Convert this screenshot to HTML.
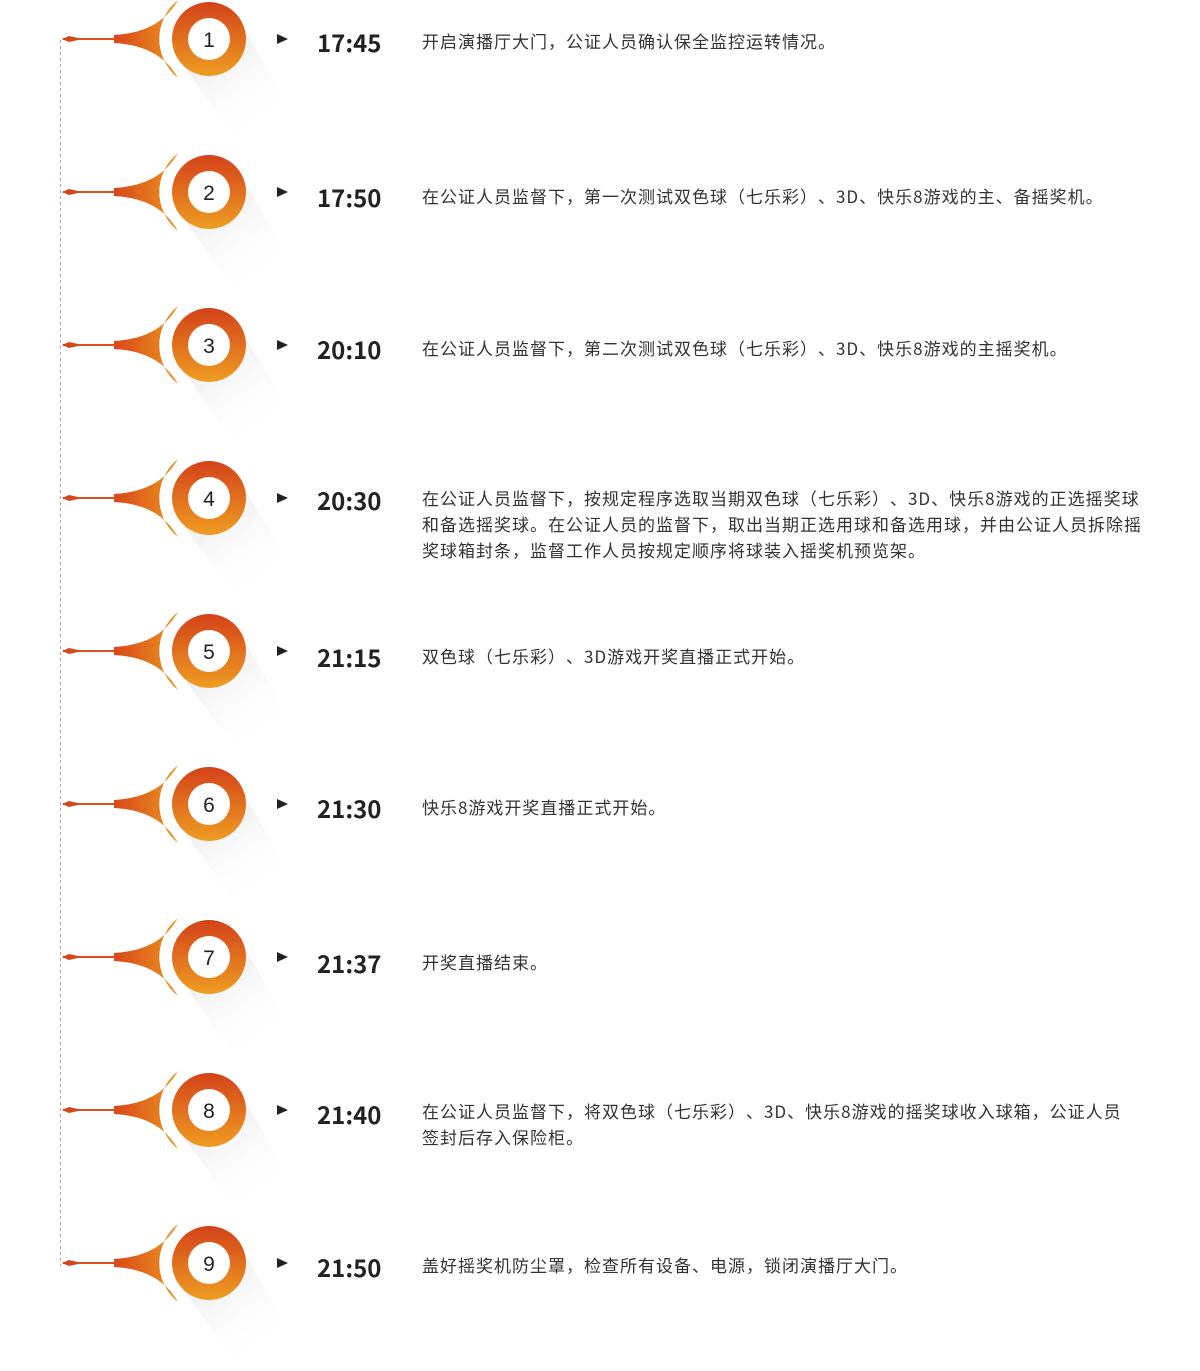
<!DOCTYPE html>
<html><head><meta charset="utf-8"><style>
html,body{margin:0;padding:0;background:#fff;}
body{width:1200px;height:1371px;position:relative;overflow:hidden;font-family:"Liberation Sans","Noto Sans CJK SC",sans-serif;}
svg{position:absolute;left:0;top:0;}
.t{position:absolute;left:317px;font-weight:bold;font-size:24px;color:#222;line-height:28px;font-family:"Noto Sans CJK SC",sans-serif;}
.d{position:absolute;left:422px;width:780px;font-size:17px;letter-spacing:1px;color:#333;line-height:26px;font-family:"Noto Sans CJK SC",sans-serif;white-space:nowrap;text-spacing-trim:space-all;}
</style></head><body>
<svg width="1200" height="1371" viewBox="0 0 1200 1371">
<defs>
<linearGradient id="fl" x1="0" y1="0" x2="1" y2="0"><stop offset="0" stop-color="#d9471a"/><stop offset="1" stop-color="#ea961f"/></linearGradient>
<linearGradient id="rg" x1="0" y1="0" x2="0" y2="1"><stop offset="0" stop-color="#d3421a"/><stop offset="1" stop-color="#ef9d22"/></linearGradient>
<linearGradient id="sh" x1="0" y1="0" x2="0.6" y2="1"><stop offset="0" stop-color="#d8d8d8" stop-opacity="0.9"/><stop offset="1" stop-color="#ffffff" stop-opacity="0"/></linearGradient>
<g id="it">
<polygon points="-26,26 26,-26 82,70 30,104" fill="url(#sh)"/>
<path d="M-95,-4 C-60,-6 -42,-20 -31,-39 A50 50 0 0 0 -31,39 C-42,20 -60,6 -95,4 Z" fill="url(#fl)"/>
<rect x="-146" y="-1" width="52" height="2" fill="#d9501a"/>
<path d="M-147,0 L-140,-3 L-131,-1 L-131,1 L-140,3 Z" fill="#d5461a"/>
<circle r="37" fill="url(#rg)"/>
<circle r="21" fill="#fff"/>
<path d="M68,-5 L79,0 L68,5 Z" fill="#222"/>
</g>
</defs>
<line x1="60.5" y1="40" x2="60.5" y2="1266" stroke="#aaa" stroke-width="1" stroke-dasharray="3,3"/>
<g font-family="Liberation Sans,sans-serif" font-size="21" fill="#222" text-anchor="middle">
<use href="#it" x="209" y="39"/><text x="209" y="47">1</text>
<use href="#it" x="209" y="192"/><text x="209" y="200">2</text>
<use href="#it" x="209" y="345"/><text x="209" y="353">3</text>
<use href="#it" x="209" y="498"/><text x="209" y="506">4</text>
<use href="#it" x="209" y="651"/><text x="209" y="659">5</text>
<use href="#it" x="209" y="804"/><text x="209" y="812">6</text>
<use href="#it" x="209" y="957"/><text x="209" y="965">7</text>
<use href="#it" x="209" y="1110"/><text x="209" y="1118">8</text>
<use href="#it" x="209" y="1263"/><text x="209" y="1271">9</text>
</g>
</svg>
<div class="t" style="top:28px">17:45</div><div class="d" style="top:28px">开启演播厅大门，公证人员确认保全监控运转情况。</div>
<div class="t" style="top:183px">17:50</div><div class="d" style="top:183px">在公证人员监督下，第一次测试双色球（七乐彩）、3D、快乐8游戏的主、备摇奖机。</div>
<div class="t" style="top:335px">20:10</div><div class="d" style="top:335px">在公证人员监督下，第二次测试双色球（七乐彩）、3D、快乐8游戏的主摇奖机。</div>
<div class="t" style="top:486px">20:30</div><div class="d" style="top:485px">在公证人员监督下，按规定程序选取当期双色球（七乐彩）、3D、快乐8游戏的正选摇奖球<br>和备选摇奖球。在公证人员的监督下，取出当期正选用球和备选用球，并由公证人员拆除摇<br>奖球箱封条，监督工作人员按规定顺序将球装入摇奖机预览架。</div>
<div class="t" style="top:643px">21:15</div><div class="d" style="top:643px">双色球（七乐彩）、3D游戏开奖直播正式开始。</div>
<div class="t" style="top:794px">21:30</div><div class="d" style="top:794px">快乐8游戏开奖直播正式开始。</div>
<div class="t" style="top:949px">21:37</div><div class="d" style="top:949px">开奖直播结束。</div>
<div class="t" style="top:1100px">21:40</div><div class="d" style="top:1098px">在公证人员监督下，将双色球（七乐彩）、3D、快乐8游戏的摇奖球收入球箱，公证人员<br>签封后存入保险柜。</div>
<div class="t" style="top:1253px">21:50</div><div class="d" style="top:1252px">盖好摇奖机防尘罩，检查所有设备、电源，锁闭演播厅大门。</div>
</body></html>
